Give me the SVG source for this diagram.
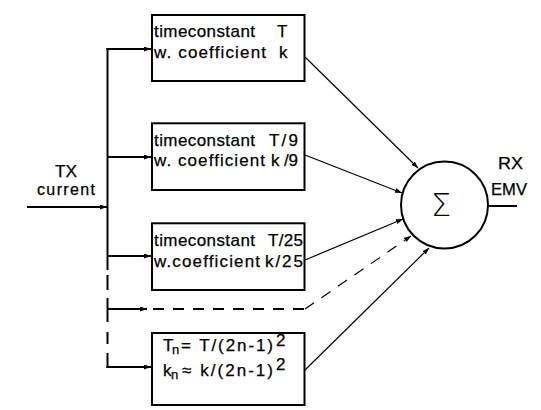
<svg xmlns="http://www.w3.org/2000/svg" width="541" height="410" viewBox="0 0 541 410">
<style>
.box{fill:#fff;stroke:#000;stroke-width:2}
.thick{fill:none;stroke:#000;stroke-width:2}
.thin{fill:none;stroke:#000;stroke-width:1.2}
.dash{fill:none;stroke:#000;stroke-width:2;stroke-dasharray:11 9}
.dthin{fill:none;stroke:#000;stroke-width:1.2;stroke-dasharray:11 9}
text{font-family:"Liberation Sans",Arial,sans-serif;font-size:17px;fill:#000;stroke:#000;stroke-width:0.25}
.lbl{font-size:16px}
.sub{font-size:13px}
.sup{font-size:17px}
.sig{font-family:"DejaVu Sans","Liberation Sans",sans-serif;font-size:32px;font-weight:200;stroke:none}
</style>
<defs>
<marker id="ah" markerUnits="userSpaceOnUse" markerWidth="8" markerHeight="6" refX="7" refY="2.5" orient="auto"><path d="M0,0 L7,2.5 L0,5 z" fill="#000"/></marker>
</defs>
<g id="connectors">
<line class="thick" x1="27" y1="207" x2="107" y2="207" marker-end="url(#ah)"/>
<line class="thick" x1="107.5" y1="48" x2="107.5" y2="270"/>
<line class="thick" x1="107.5" y1="275" x2="107.5" y2="290"/>
<line class="thick" x1="107.5" y1="298" x2="107.5" y2="322"/>
<line class="thick" x1="107.5" y1="332" x2="107.5" y2="344"/>
<line class="thick" x1="107.5" y1="353" x2="107.5" y2="368"/>
<line class="thick" x1="106.5" y1="49" x2="151" y2="49" marker-end="url(#ah)"/>
<line class="thick" x1="107.5" y1="157" x2="151" y2="157" marker-end="url(#ah)"/>
<line class="thick" x1="107.5" y1="256" x2="151" y2="256" marker-end="url(#ah)"/>
<line class="thick" x1="107.5" y1="309" x2="147" y2="309" marker-end="url(#ah)"/>
<line class="thick" x1="106.5" y1="367" x2="151" y2="367" marker-end="url(#ah)"/>
<line class="dash" x1="153" y1="309" x2="305" y2="309"/>
<line class="dthin" x1="305" y1="309" x2="411" y2="236" marker-end="url(#ah)"/>
<line class="thin" x1="305" y1="57" x2="418" y2="168" marker-end="url(#ah)"/>
<line class="thin" x1="305" y1="155" x2="402" y2="193" marker-end="url(#ah)"/>
<line class="thin" x1="305" y1="260" x2="403" y2="219" marker-end="url(#ah)"/>
<line class="thin" x1="305" y1="370" x2="429" y2="248" marker-end="url(#ah)"/>
<line class="thick" x1="488" y1="206" x2="517" y2="206"/>
</g>
<g id="tx">
<text class="lbl" x="55" y="177" textLength="22" lengthAdjust="spacingAndGlyphs">TX</text>
<text class="lbl" x="37" y="195" textLength="58" lengthAdjust="spacing">current</text>
</g>
<g id="box1">
<rect class="box" x="152" y="15" width="152.5" height="66"/>
<text x="154" y="37" textLength="101" lengthAdjust="spacing">timeconstant</text>
<text x="277" y="37">T</text>
<text x="154" y="58" textLength="112" lengthAdjust="spacing">w. coefficient</text>
<text x="279" y="58">k</text>
</g>
<g id="box2">
<rect class="box" x="152" y="123.3" width="152.5" height="66.7"/>
<text x="154" y="146" textLength="101" lengthAdjust="spacing">timeconstant</text>
<text x="269" y="146" textLength="29" lengthAdjust="spacing">T/9</text>
<text x="154" y="166" textLength="111" lengthAdjust="spacing">w. coefficient</text>
<text x="271" y="166" textLength="27" lengthAdjust="spacing">k /9</text>
</g>
<g id="box3">
<rect class="box" x="152" y="223.3" width="152.5" height="66.7"/>
<text x="154" y="246" textLength="101" lengthAdjust="spacing">timeconstant</text>
<text x="268" y="246" textLength="35" lengthAdjust="spacing">T/25</text>
<text x="154" y="267" textLength="106" lengthAdjust="spacing">w.coefficient</text>
<text x="265" y="267" textLength="38" lengthAdjust="spacing">k/25</text>
</g>
<g id="box4">
<rect class="box" x="152" y="333" width="152.5" height="72"/>
<text x="163" y="351">T</text>
<text class="sub" x="172" y="354">n</text>
<text x="181" y="351" textLength="92" lengthAdjust="spacing">= T/(2n-1)</text>
<text class="sup" x="276" y="346">2</text>
<text x="163" y="376">k</text>
<text class="sub" x="171" y="379">n</text>
<text x="182" y="376" textLength="91" lengthAdjust="spacing">≈ k/(2n-1)</text>
<text class="sup" x="276" y="370">2</text>
</g>
<g id="sum">
<circle class="thick" cx="444.5" cy="205" r="43.5"/>
<text class="sig" x="441" y="216" text-anchor="middle">Σ</text>
</g>
<g id="rx">
<text class="lbl" x="498" y="169" textLength="25" lengthAdjust="spacingAndGlyphs">RX</text>
<text class="lbl" x="491" y="195" textLength="36" lengthAdjust="spacingAndGlyphs">EMV</text>
</g>
</svg>
